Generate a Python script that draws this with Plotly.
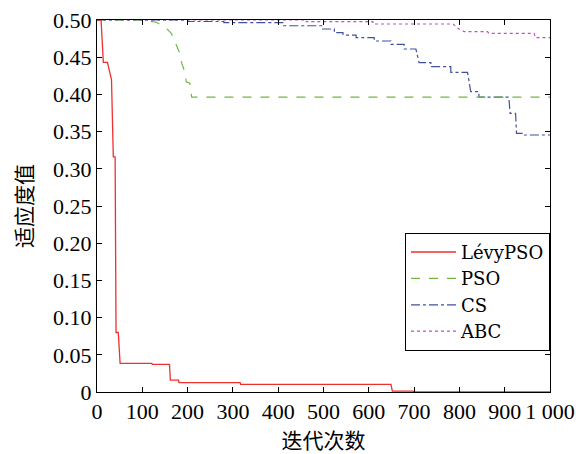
import plotly.graph_objects as go

# Convergence curves: (iteration, fitness) breakpoints for each algorithm
levy_iter = [0, 9, 14, 23, 32, 36, 40, 42, 47, 51, 121, 122, 160, 162, 180, 181, 316, 317, 649, 652, 698, 700, 1000]
levy_fit = [0.5, 0.5, 0.443, 0.443, 0.420, 0.316, 0.316, 0.080, 0.080, 0.0385, 0.0385, 0.0372, 0.0372, 0.016, 0.016, 0.0125, 0.0125, 0.0103, 0.0103, 0.0013, 0.0013, 0.0, 0.0]

pso_iter = [0, 102, 131, 153, 164, 177, 183, 187, 194, 197, 205, 209, 1000]
pso_fit = [0.5, 0.5, 0.497, 0.489, 0.482, 0.464, 0.455, 0.442, 0.430, 0.417, 0.415, 0.3963, 0.3963]

cs_iter = [0, 200, 200, 280, 280, 412, 412, 498, 498, 524, 524, 543, 543, 572, 572, 612, 612, 649, 649, 678, 678,
           704, 711, 737, 737, 781, 781, 818, 825, 843, 843, 909, 912, 924, 926, 940, 940, 1000]
cs_fit = [0.5, 0.5, 0.498, 0.498, 0.4964, 0.4964, 0.4923, 0.4923, 0.4879, 0.4879, 0.4829, 0.4829, 0.4798, 0.4798,
          0.4762, 0.4762, 0.4718, 0.4718, 0.4673, 0.4673, 0.461, 0.461, 0.4426, 0.4426, 0.4372, 0.4372, 0.4297,
          0.4297, 0.4036, 0.4036, 0.3963, 0.3963, 0.3746, 0.3746, 0.3477, 0.3477, 0.3454, 0.3454]

abc_iter = [0, 462, 462, 609, 609, 786, 799, 811, 862, 865, 965, 968, 1000]
abc_fit = [0.5, 0.5, 0.4977, 0.4977, 0.4946, 0.4946, 0.4879, 0.4843, 0.4843, 0.4821, 0.4821, 0.4762, 0.4762]

x_ticks = [0, 100, 200, 300, 400, 500, 600, 700, 800, 900, 1000]
x_tick_text = ["0", "100", "200", "300", "400", "500", "600", "700", "800", "900", "1 000"]
y_ticks = [0, 0.05, 0.10, 0.15, 0.20, 0.25, 0.30, 0.35, 0.40, 0.45, 0.50]
y_tick_text = ["0", "0.05", "0.10", "0.15", "0.20", "0.25", "0.30", "0.35", "0.40", "0.45", "0.50"]

serif = "Times New Roman"
legend_serif = "DejaVu Serif"
cjk = "Noto Sans CJK SC"

fig = go.Figure()
fig.add_trace(go.Scatter(x=abc_iter, y=abc_fit, mode="lines", name="ABC",
                         line=dict(color="#c050c0", width=1.2, dash="dot")))
fig.add_trace(go.Scatter(x=cs_iter, y=cs_fit, mode="lines", name="CS",
                         line=dict(color="#4050a0", width=1.2, dash="dashdot")))
fig.add_trace(go.Scatter(x=pso_iter, y=pso_fit, mode="lines", name="PSO",
                         line=dict(color="#70b840", width=1.2, dash="dash")))
fig.add_trace(go.Scatter(x=levy_iter, y=levy_fit, mode="lines", name="LévyPSO",
                         line=dict(color="#ee3030", width=1.3)))

fig.update_layout(
    width=576, height=454,
    margin=dict(l=97, r=26, t=20, b=62),
    paper_bgcolor="white", plot_bgcolor="white",
    font=dict(family=serif, size=22, color="black"),
    showlegend=True,
    legend=dict(
        x=1.0, y=0.428, xanchor="right", yanchor="top",
        traceorder="reversed",
        bgcolor="white", bordercolor="black", borderwidth=1,
        font=dict(family=legend_serif, size=18, color="black"),
        tracegroupgap=0, itemwidth=45,
    ),
)
fig.update_xaxes(
    range=[0, 1000], tickvals=x_ticks, ticktext=x_tick_text,
    ticks="inside", ticklen=5, tickcolor="black",
    showline=True, linecolor="black", linewidth=1, mirror="ticks",
    showgrid=False, zeroline=False, ticklabeloverflow="allow", automargin=False,
    tickfont=dict(family=serif, size=22),
    title=dict(text="迭代次数", font=dict(family=cjk, size=21), standoff=8),
)
fig.update_yaxes(
    range=[0, 0.5], tickvals=y_ticks, ticktext=y_tick_text,
    ticks="inside", ticklen=5, tickcolor="black",
    showline=True, linecolor="black", linewidth=1, mirror="ticks",
    showgrid=False, zeroline=False, automargin=False,
    tickfont=dict(family=serif, size=22),
    title=dict(text="适应度值", font=dict(family=cjk, size=21), standoff=14),
)

fig.write_html("out.html")
